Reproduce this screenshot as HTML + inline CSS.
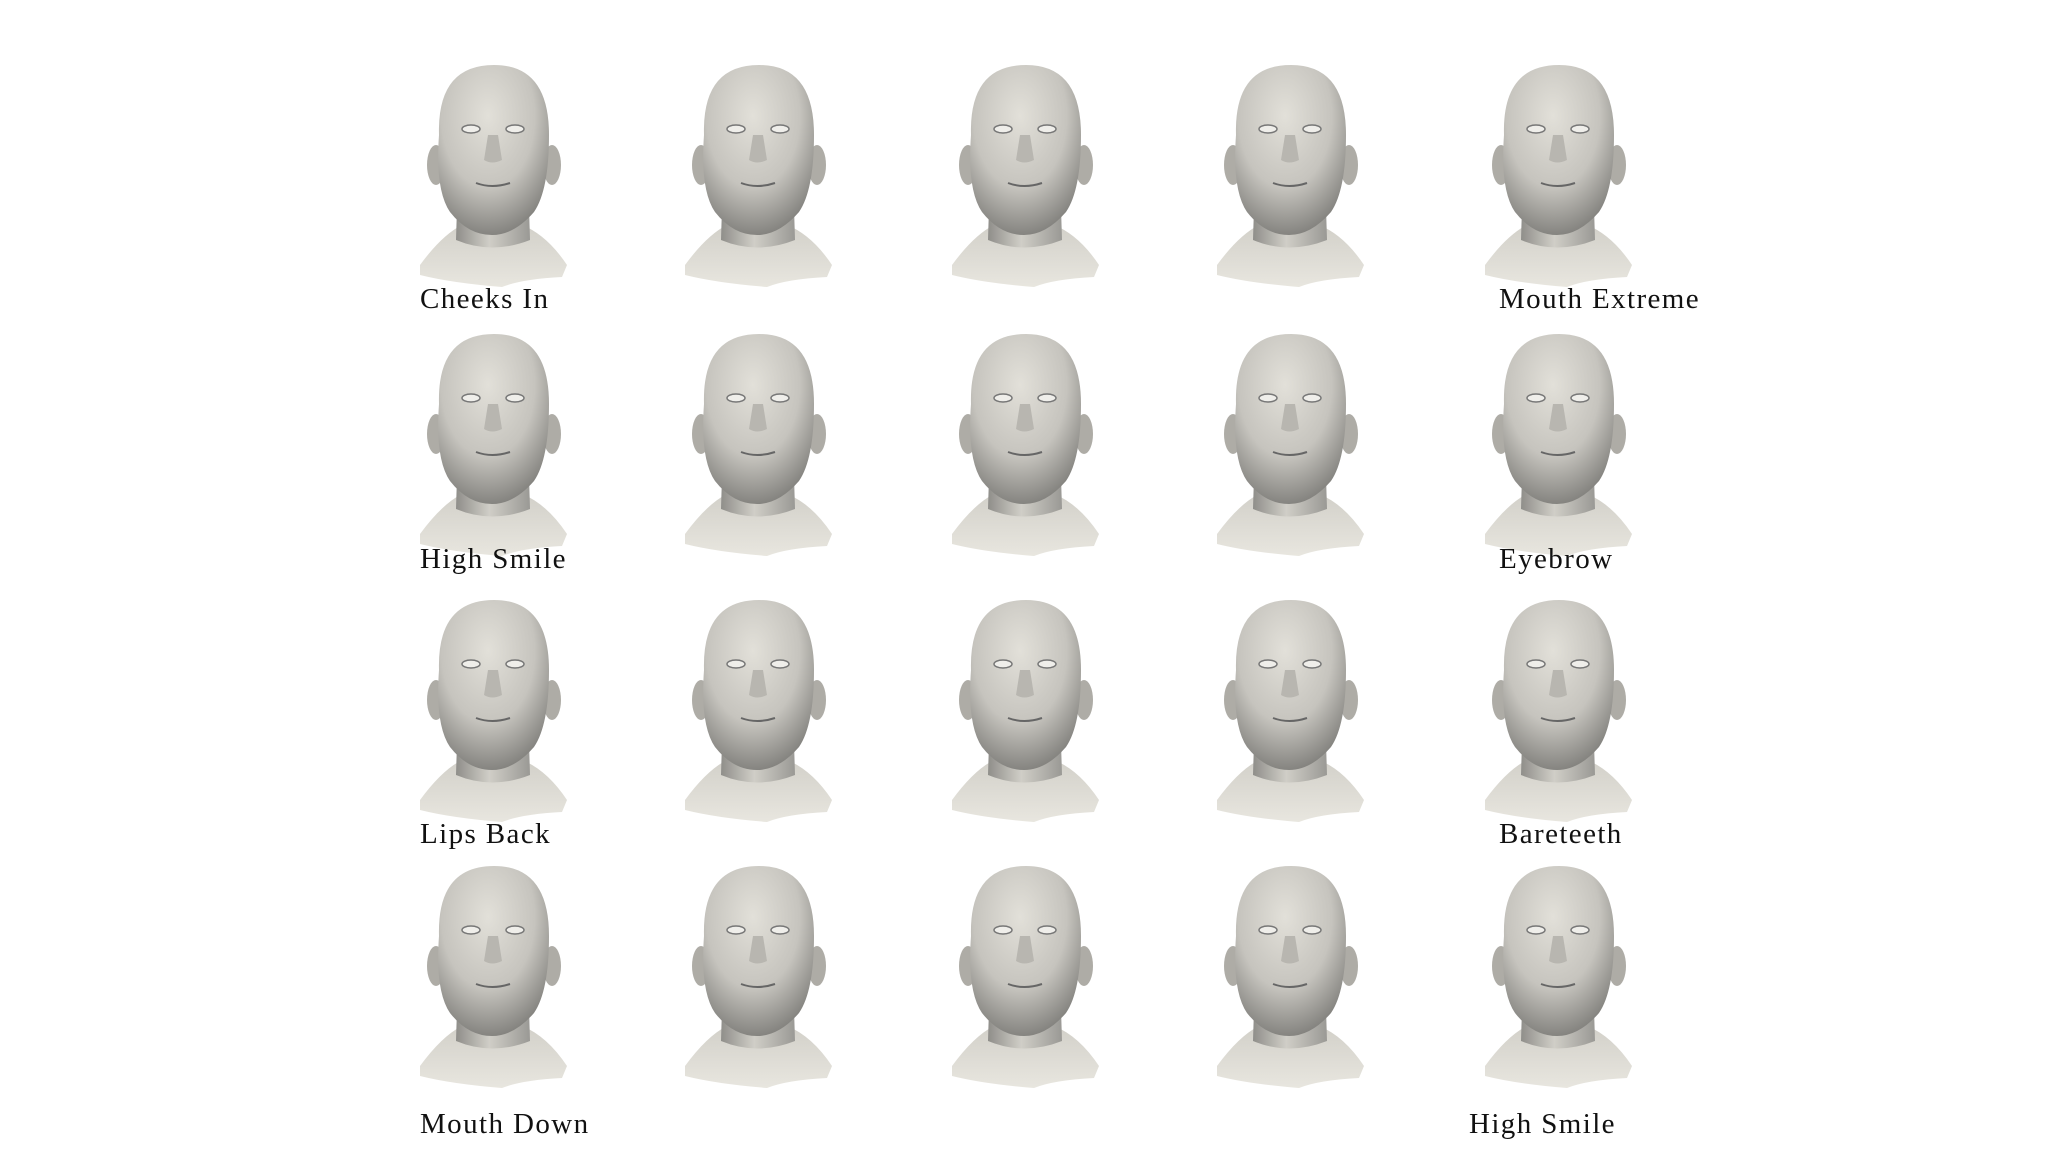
<!DOCTYPE html>
<html><head><meta charset="utf-8"><style>
html,body{margin:0;padding:0;background:#fff;}
body{width:2048px;height:1152px;position:relative;overflow:hidden;}
svg{position:absolute;left:0;top:0;}
text{font-family:"Liberation Serif",serif;font-size:29px;letter-spacing:1.4px;fill:#111;}
</style></head><body>
<svg width="2048" height="1152">
<defs>
<radialGradient id="skin" cx="0.45" cy="0.3" r="0.7">
<stop offset="0" stop-color="#e2e0d9"/><stop offset="0.6" stop-color="#c6c4be"/><stop offset="1" stop-color="#858480"/>
</radialGradient>
<linearGradient id="neck" x1="0" y1="0" x2="1" y2="0">
<stop offset="0" stop-color="#8f8e8a"/><stop offset="0.45" stop-color="#d0cec7"/><stop offset="1" stop-color="#9a9995"/>
</linearGradient>
<linearGradient id="base" x1="0" y1="0" x2="0" y2="1">
<stop offset="0" stop-color="#d2d0c9"/><stop offset="1" stop-color="#e8e6df"/>
</linearGradient>
<g id="head">
<path d="M-72 200 Q-50 170 -30 160 L30 160 Q55 170 75 200 L70 212 Q30 214 10 222 Q-40 218 -72 210 Z" fill="url(#base)"/>
<path d="M-34 110 L-36 175 Q0 190 38 175 L36 110 Z" fill="url(#neck)"/>
<ellipse cx="-56" cy="100" rx="9" ry="20" fill="#aeaca6"/>
<ellipse cx="60" cy="100" rx="9" ry="20" fill="#aeaca6"/>
<path d="M-53 70 Q-55 0 2 0 Q57 0 57 70 Q57 125 42 147 Q22 170 0 170 Q-24 170 -42 147 Q-57 125 -53 70 Z" fill="url(#skin)"/>
<ellipse cx="-21" cy="64" rx="9" ry="4" fill="#efeeea" stroke="#777" stroke-width="1.5"/>
<ellipse cx="23" cy="64" rx="9" ry="4" fill="#efeeea" stroke="#777" stroke-width="1.5"/>
<path d="M-4 70 L-8 95 Q0 100 10 95 L6 70" fill="#b8b6b0"/>
<path d="M-16 118 Q0 124 18 118" stroke="#666" stroke-width="2" fill="none"/>
</g>
</defs>
<g id="heads"></g>
<text x="420" y="308">Cheeks In</text>
<text x="1499" y="308">Mouth Extreme</text>
<text x="420" y="568">High Smile</text>
<text x="1499" y="568">Eyebrow</text>
<text x="420" y="843">Lips Back</text>
<text x="1499" y="843">Bareteeth</text>
<text x="420" y="1133">Mouth Down</text>
<text x="1469" y="1133">High Smile</text>
</svg>
<script>
const colX=[492,757,1024,1289,1557];
const rowY=[65,334,600,866];
const g=document.getElementById('heads');
rowY.forEach((y,r)=>colX.forEach((x,c)=>{
const u=document.createElementNS('http://www.w3.org/2000/svg','use');
u.setAttribute('href','#head');
u.setAttribute('transform','translate('+x+','+y+')');


g.appendChild(u);
}));
</script>
</body></html>
